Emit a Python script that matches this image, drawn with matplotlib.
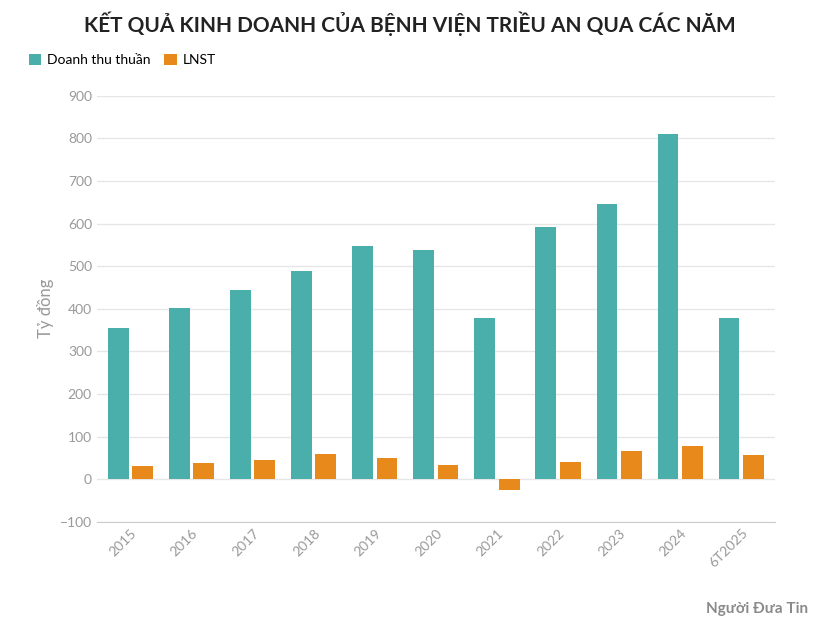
import matplotlib
matplotlib.use("Agg")
import matplotlib.pyplot as plt
import numpy as np

years = ["2015","2016","2017","2018","2019","2020","2021","2022","2023","2024","6T2025"]
revenue = [355, 402, 444, 489, 547, 538, 378, 592, 646, 811, 378]
profit = [30, 37, 45, 59, 49, 33, -26, 40, 66, 77, 56]

plt.rcParams['font.family'] = ['Lato', 'DejaVu Sans']
fig = plt.figure(figsize=(8.2, 6.34), dpi=100)
ax = fig.add_axes([0.118, 0.177, 0.827, 0.672])
x = np.arange(len(years))
w = 0.34
ax.bar(x - 0.2, revenue, w, color='#4aaeab', label='Doanh thu thuần')
ax.bar(x + 0.2, profit, w, color='#e8891c', label='LNST')
ax.set_xlim(-0.55, len(years) - 0.45)
ax.set_ylim(-100, 900)
ax.set_yticks(range(-100, 901, 100))
ax.grid(axis='y', color='#e6e6e6', lw=1)
ax.set_axisbelow(True)
for s in ['top', 'right', 'left']:
    ax.spines[s].set_visible(False)
ax.spines['bottom'].set_color('#cccccc')
ax.tick_params(axis='y', length=0, colors='#999999', labelsize=10)
ax.tick_params(axis='x', length=0, colors='#999999', labelsize=10)
ax.set_xticks(x)
ax.set_xticklabels(years, rotation=45, ha='right', rotation_mode='anchor')
ax.set_ylabel('Tỷ đồng', color='#999999', fontsize=12)
fig.text(0.5, 0.962, 'KẾT QUẢ KINH DOANH CỦA BỆNH VIỆN TRIỀU AN QUA CÁC NĂM',
         ha='center', va='center', fontsize=15, fontweight='bold', color='#222222')
fig.legend(loc='upper left', bbox_to_anchor=(0.02, 0.935), ncol=2, frameon=False,
           fontsize=10, handlelength=0.9, handleheight=0.9, columnspacing=1.0, handletextpad=0.4)
fig.text(0.985, 0.04, 'Người Đưa Tin', ha='right', va='center', fontsize=11,
         color='#8a8a8a', fontweight='bold')
fig.savefig('out.png', dpi=100, facecolor='white')
